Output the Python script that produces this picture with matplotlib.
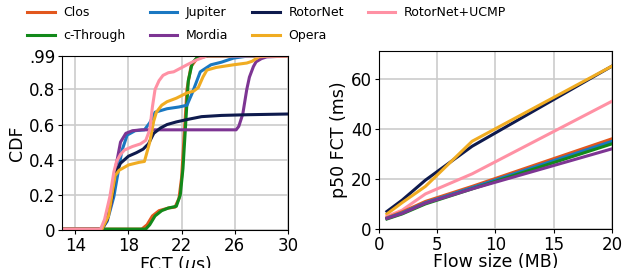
import matplotlib
matplotlib.use("Agg")
import matplotlib.pyplot as plt

names = ["Clos", "c-Through", "Jupiter", "Mordia", "RotorNet", "Opera", "RotorNet+UCMP"]
colors = ["#e2571e", "#12891a", "#1a78c2", "#7d3593", "#0e1a4d", "#f0ac22", "#ff91a4"]

# CDF panel: FCT (us) vs CDF
cdf_x = {
    "Clos": [13, 19.0, 19.4, 19.8, 20.3, 21.0, 21.5, 21.8, 22.0, 22.2, 22.4, 22.7, 23.2, 24.0, 30],
    "c-Through": [13, 19.3, 19.6, 20.0, 20.5, 21.0, 21.6, 21.9, 22.1, 22.3, 22.5, 22.8, 23.2, 24.0, 30],
    "Jupiter": [13, 16.0, 16.4, 16.9, 17.2, 17.5, 17.9, 18.5, 19.2, 19.6, 20.0, 20.9, 21.8, 22.4, 22.8, 23.4, 24.2, 25.0, 25.9, 27.0, 30],
    "Mordia": [13, 16.0, 16.4, 16.7, 17.0, 17.4, 17.8, 18.3, 19.0, 26.1, 26.3, 26.6, 26.9, 27.1, 27.4, 27.6, 28.0, 28.4, 30],
    "RotorNet": [13, 16.0, 16.4, 16.8, 17.0, 17.4, 18.0, 18.6, 19.1, 19.5, 19.9, 20.4, 20.9, 21.6, 22.5, 23.5, 25.0, 27.0, 30],
    "Opera": [13, 16.0, 16.5, 16.8, 17.0, 17.3, 18.0, 18.8, 19.2, 19.6, 19.9, 20.1, 20.5, 20.9, 21.6, 22.4, 22.9, 23.25, 23.6, 23.9, 24.6, 25.9, 26.9, 27.3, 27.8, 28.5, 30],
    "RotorNet+UCMP": [13, 15.9, 16.2, 16.6, 16.9, 17.1, 17.4, 17.7, 18.3, 18.9, 19.3, 19.6, 19.8, 20.0, 20.3, 20.6, 21.0, 21.4, 22.4, 23.1, 23.9, 30],
}
cdf_y = {
    "Clos": [0.005, 0.005, 0.03, 0.08, 0.11, 0.125, 0.13, 0.18, 0.30, 0.55, 0.80, 0.93, 0.98, 0.99, 0.99],
    "c-Through": [0.005, 0.005, 0.03, 0.08, 0.11, 0.125, 0.135, 0.20, 0.35, 0.60, 0.85, 0.95, 0.985, 0.99, 0.99],
    "Jupiter": [0.005, 0.005, 0.05, 0.19, 0.32, 0.45, 0.54, 0.565, 0.57, 0.61, 0.67, 0.69, 0.70, 0.71, 0.78, 0.90, 0.94, 0.955, 0.978, 0.99, 0.99],
    "Mordia": [0.005, 0.005, 0.06, 0.15, 0.34, 0.50, 0.55, 0.565, 0.57, 0.57, 0.59, 0.66, 0.80, 0.87, 0.93, 0.957, 0.975, 0.985, 0.99],
    "RotorNet": [0.005, 0.005, 0.06, 0.20, 0.32, 0.38, 0.42, 0.44, 0.46, 0.49, 0.55, 0.58, 0.60, 0.615, 0.63, 0.645, 0.652, 0.656, 0.66],
    "Opera": [0.005, 0.005, 0.08, 0.22, 0.31, 0.34, 0.37, 0.385, 0.39, 0.50, 0.62, 0.67, 0.71, 0.73, 0.75, 0.78, 0.79, 0.81, 0.87, 0.91, 0.925, 0.94, 0.95, 0.96, 0.985, 0.99, 0.99],
    "RotorNet+UCMP": [0.005, 0.005, 0.06, 0.19, 0.33, 0.39, 0.43, 0.455, 0.475, 0.49, 0.51, 0.57, 0.70, 0.80, 0.85, 0.88, 0.895, 0.90, 0.94, 0.967, 0.99, 0.99],
}

# p50 FCT panel
flow_sizes = [0.7, 2, 4, 8, 20]
p50 = {
    "Clos": [4.5, 6.8, 11.0, 17.0, 36.0],
    "c-Through": [4.0, 6.0, 10.0, 16.0, 34.0],
    "Jupiter": [4.3, 6.4, 10.5, 16.5, 35.0],
    "Mordia": [4.2, 6.2, 10.3, 16.0, 32.0],
    "RotorNet": [7.0, 11.5, 19.5, 33.0, 65.0],
    "Opera": [6.0, 10.5, 17.0, 35.0, 65.0],
    "RotorNet+UCMP": [5.0, 7.5, 14.0, 22.0, 51.0],
}

fig = plt.figure(figsize=(6.24, 2.68), dpi=100)
ax1 = fig.add_axes([0.0994, 0.1418, 0.3621, 0.6492])
ax2 = fig.add_axes([0.607, 0.1455, 0.374, 0.6642])

grid_kw = dict(color="#cccccc", linewidth=1.2)
for n, c in zip(names, colors):
    ax1.plot(cdf_x[n], cdf_y[n], color=c, lw=2.2, label=n)
ax1.set_xlim(13, 30)
ax1.set_ylim(0, 0.99)
ax1.set_xticks([14, 18, 22, 26, 30])
ax1.set_yticks([0, 0.2, 0.4, 0.6, 0.8, 0.99])
ax1.set_yticklabels(["0", "0.2", "0.4", "0.6", "0.8", ".99"])
ax1.grid(True, **grid_kw)
ax1.set_axisbelow(True)
ax1.set_xlabel("FCT ($\\mu$s)", fontsize=12.5, labelpad=-1)
ax1.set_ylabel("CDF", fontsize=12.5, labelpad=2)
ax1.tick_params(labelsize=12, length=3, pad=2)

order2 = ["RotorNet", "Opera", "RotorNet+UCMP", "Clos", "Jupiter", "c-Through", "Mordia"]
for n in order2:
    c = colors[names.index(n)]
    ax2.plot(flow_sizes, p50[n], color=c, lw=2.2)
ax2.set_xlim(0, 20)
ax2.set_ylim(0, 71)
ax2.set_xticks([0, 5, 10, 15, 20])
ax2.set_yticks([0, 20, 40, 60])
ax2.grid(True, **grid_kw)
ax2.set_axisbelow(True)
ax2.set_xlabel("Flow size (MB)", fontsize=12.5, labelpad=-1)
ax2.set_ylabel("p50 FCT (ms)", fontsize=12.5, labelpad=2)
ax2.tick_params(labelsize=12, length=3, pad=2)

handles, labels = ax1.get_legend_handles_labels()
fig.legend(handles, labels, loc="upper left", bbox_to_anchor=(0.032, 1.005), ncol=4,
           frameon=False, fontsize=9, handlelength=2.2, handletextpad=0.7,
           columnspacing=1.9, labelspacing=0.8, borderaxespad=0.2)

fig.savefig("out.png", dpi=100)
